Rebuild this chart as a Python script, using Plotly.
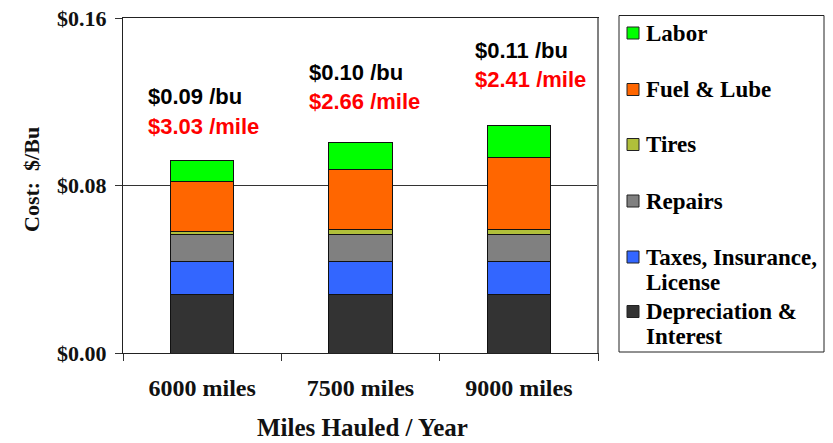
import plotly.graph_objects as go

# Cost components ($ per bushel) for each annual mileage
categories = ["6000 miles", "7500 miles", "9000 miles"]
depreciation = [0.0280, 0.0280, 0.0280]
taxes = [0.0155, 0.0155, 0.0155]
repairs = [0.0132, 0.0132, 0.0132]
tires = [0.0013, 0.0021, 0.0021]
fuel = [0.0238, 0.0288, 0.0348]
labor = [0.0102, 0.0130, 0.0149]
per_mile = [3.03, 2.66, 2.41]

series_names = ["Depreciation &<br>Interest", "Taxes, Insurance,<br>License", "Repairs",
                "Tires", "Fuel & Lube", "Labor"]
series_values = [depreciation, taxes, repairs, tires, fuel, labor]
series_colors = ["#333333", "#3366FF", "#808080", "#B0BF3A", "#FF6600", "#00FF00"]

SERIF = "Liberation Serif"
SANS = "Liberation Sans"

fig = go.Figure()
for name, vals, col in zip(series_names, series_values, series_colors):
    fig.add_trace(go.Bar(
        x=categories, y=vals, name=name.replace("<br>", " "),
        marker=dict(color=col, line=dict(color="#111111", width=1)),
        width=0.4, showlegend=False,
    ))

# Totals per bushel and per mile written above the bars
totals = [sum(v[i] for v in series_values) for i in range(len(categories))]
bu_y = [0.1226, 0.1341, 0.1445]
mile_y = [0.1084, 0.1202, 0.1307]
label_shift = [-56, -54, -46]
annotations = []
for cat, tot, pm, yb, ym, dx in zip(categories, totals, per_mile, bu_y, mile_y, label_shift):
    annotations.append(dict(x=cat, y=yb, xref="x", yref="y", text=f"<b>${tot:.2f} /bu</b>",
                            showarrow=False, xanchor="left", yanchor="middle", xshift=dx,
                            font=dict(family=SANS, size=22, color="#000000")))
    annotations.append(dict(x=cat, y=ym, xref="x", yref="y", text=f"<b>${pm:.2f} /mile</b>",
                            showarrow=False, xanchor="left", yanchor="middle", xshift=dx,
                            font=dict(family=SANS, size=22, color="#FF0000")))

# Plot-area geometry in pixels
L, R, T, B = 123, 598, 18, 353
W, H = R - L, B - T


def px(xp):
    return (xp - L) / W


def py(yp):
    return (B - yp) / H


# Axis titles
annotations.append(dict(x=px(362), y=py(427), xref="paper", yref="paper",
                        text="<b>Miles Hauled / Year</b>", showarrow=False,
                        xanchor="center", yanchor="middle",
                        font=dict(family=SERIF, size=25, color="#111111")))
annotations.append(dict(x=px(31), y=py(180), xref="paper", yref="paper",
                        text="<b>Cost:  $/Bu</b>", showarrow=False, textangle=-90,
                        xanchor="center", yanchor="middle",
                        font=dict(family=SERIF, size=22, color="#111111")))

# Legend box on the right
shapes = [dict(type="rect", xref="paper", yref="paper", x0=px(619), x1=px(824),
               y0=py(352), y1=py(15.5), line=dict(color="#222222", width=1),
               fillcolor="rgba(0,0,0,0)", layer="above"),
          dict(type="line", xref="paper", yref="paper", x0=1, x1=1, y0=0, y1=1,
               line=dict(color="#808080", width=2), layer="above")]

legend_rows = [33, 89.5, 144.5, 201, 257, 311.5]
line_gap = 25
for name, col, yc in zip(reversed(series_names), reversed(series_colors), legend_rows):
    shapes.append(dict(type="rect", xref="paper", yref="paper", x0=px(627), x1=px(639),
                       y0=py(yc + 6), y1=py(yc - 6), fillcolor=col,
                       line=dict(color="#222222", width=1), layer="above"))
    for k, part in enumerate(name.split("<br>")):
        annotations.append(dict(x=px(644), y=py(yc + k * line_gap), xref="paper", yref="paper",
                                text=f"<b>{part}</b>", showarrow=False, xanchor="left",
                                yanchor="middle",
                                font=dict(family=SERIF, size=23, color="#000000")))

fig.update_layout(
    barmode="stack",
    width=833, height=443,
    margin=dict(l=L, r=833 - R, t=T, b=443 - B, pad=0, autoexpand=False),
    paper_bgcolor="white", plot_bgcolor="white",
    annotations=annotations, shapes=shapes,
    xaxis=dict(
        type="category", tickson="boundaries", ticks="outside", ticklen=7,
        tickcolor="#333333", showline=True, linecolor="#222222", linewidth=1, mirror=True,
        tickfont=dict(family=SERIF, size=24, color="#111111", weight="bold"),
        ticklabelstandoff=13, automargin=False,
    ),
    yaxis=dict(
        range=[0, 0.16], tickvals=[0, 0.08, 0.16], tickformat="$.2f",
        ticks="outside", ticklen=7, tickcolor="#333333",
        showline=True, linecolor="#222222", linewidth=1, mirror=True,
        showgrid=True, gridcolor="#333333", gridwidth=1, zeroline=False,
        tickfont=dict(family=SERIF, size=22, color="#111111", weight="bold"),
        ticklabelstandoff=4, automargin=False,
    ),
)

fig.write_html("out.html")
